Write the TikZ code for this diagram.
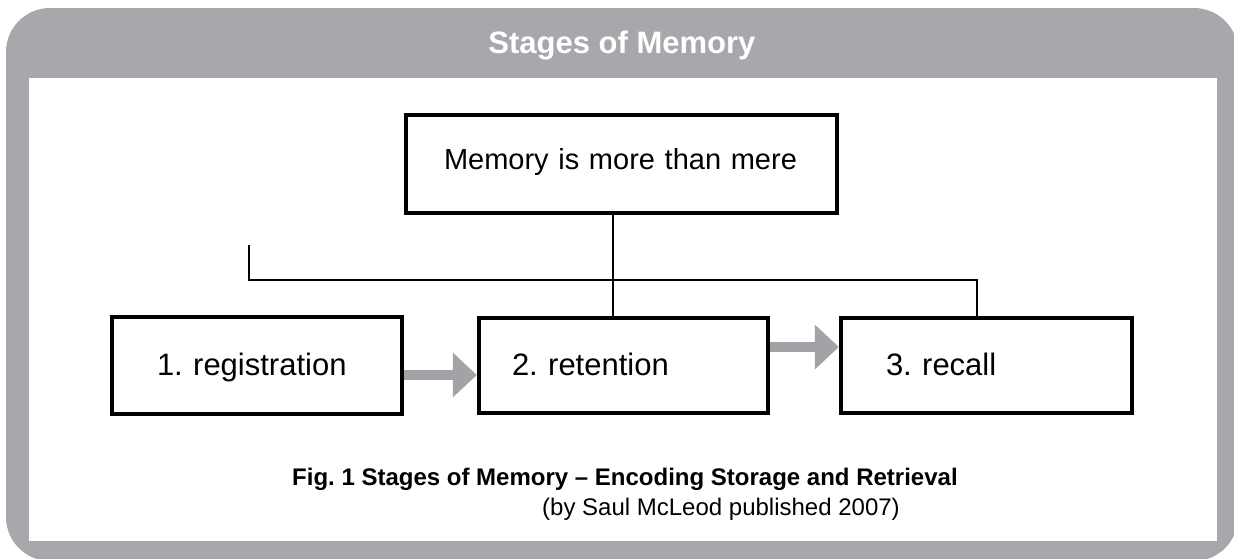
\documentclass[tikz,border=0pt]{standalone}
\usepackage{fontspec}
\setmainfont{Liberation Sans}
\usetikzlibrary{arrows.meta}
\definecolor{framegray}{HTML}{A7A8AC}
\definecolor{arrowgray}{HTML}{A2A3A7}
\tikzset{
  stagebox/.style={draw=black, line width=4.5pt, fill=white, rectangle,
    align=left, inner ysep=0pt, text height=26pt, text depth=7pt,
    font=\fontsize{31}{37}\selectfont\frenchspacing},
  topbox/.style={stagebox, text height=22pt, text depth=12pt,
    font=\fontsize{29}{35}\selectfont\frenchspacing},
  link/.style={draw=black, line width=2pt},
  blockarrow/.style={draw=arrowgray, line width=10pt,
    -{Triangle[length=24pt,width=45pt,line width=0pt]}},
  titletext/.style={text=white, font=\fontsize{31}{37}\selectfont\bfseries, inner sep=0pt},
  captext/.style={font=\fontsize{24}{29}\selectfont\frenchspacing, inner sep=0pt}
}
\begin{document}
\begin{tikzpicture}[x=1pt, y=-1pt]
  \useasboundingbox (0,0) rectangle (1234,558);
  \clip (0,0) rectangle (1234,558);

  % panel frame with header band
  \fill[framegray, rounded corners=44pt] (6,8) rectangle (1238,561);
  \fill[white] (29,78) rectangle (1217,541);
  \node[titletext, anchor=base] (title) at (622,53) {Stages of Memory};

  % boxes
  \node[topbox, minimum width=431pt, minimum height=98pt,
        inner xsep=38pt, text width=355pt] (top) at (621.5,164) {Memory is more than mere};
  \node[stagebox, minimum width=290pt, minimum height=97pt,
        inner xsep=45pt, text width=200pt] (box1) at (257,365.5) {1. registration};
  \node[stagebox, minimum width=289pt, minimum height=95pt,
        inner xsep=33pt, text width=223pt] (box2) at (623.5,365.5) {2. retention};
  \node[stagebox, minimum width=291pt, minimum height=95pt,
        inner xsep=45pt, text width=201pt] (box3) at (986.5,365.5) {3. recall};

  % tree connectors
  \coordinate (stem) at ([xshift=-8.5pt]top.south);
  \draw[link] (stem) -- (stem |- box2.north);
  \coordinate (bl) at (249,245);
  \coordinate (rail) at (0,280);
  \coordinate (rtip) at ([xshift=-9.5pt]box3.north);
  \draw[link] (bl) |- (rail -| rtip) -- (rtip);

  % block arrows between stages
  \draw[blockarrow] ([yshift=-9.5pt]box1.east) -- ([yshift=-9.5pt]box2.west);
  \draw[blockarrow] ([yshift=18.5pt]box2.east) -- ([yshift=18.5pt]box3.west);

  % caption
  \node[captext, font=\fontsize{24}{29}\selectfont\bfseries\frenchspacing, anchor=base west] (cap1) at (292,485)
    {Fig. 1 Stages of Memory – Encoding Storage and Retrieval};
  \node[captext, anchor=base west] (cap2) at (542,515) {(by Saul McLeod published 2007)};
\end{tikzpicture}
\end{document}
